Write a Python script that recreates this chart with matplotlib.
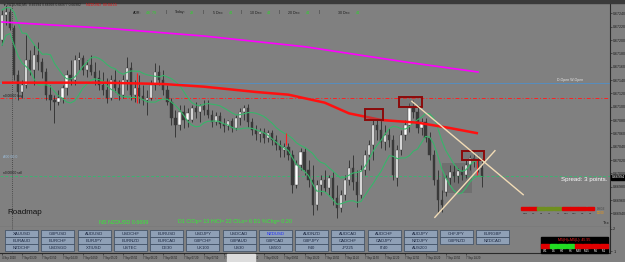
import numpy as np
import pandas as pd
import matplotlib
matplotlib.use("Agg")
import matplotlib.pyplot as plt
from matplotlib.patches import Rectangle
from matplotlib.transforms import blended_transform_factory

plt.rcParams['font.family'] = ['Liberation Sans', 'DejaVu Sans']

# ---------------- data ----------------
opens = [0.67200, 0.67238, 0.67242, 0.67218, 0.67148, 0.67122, 0.67132, 0.67170, 0.67155, 0.67178,
         0.67167, 0.67152, 0.67118, 0.67110, 0.67107, 0.67113, 0.67128, 0.67148, 0.67140, 0.67170,
         0.67173, 0.67155, 0.67162, 0.67152, 0.67143, 0.67132, 0.67125, 0.67113, 0.67140, 0.67128,
         0.67118, 0.67140, 0.67158, 0.67118, 0.67128, 0.67116, 0.67110, 0.67113, 0.67132, 0.67152,
         0.67140, 0.67125, 0.67107, 0.67083, 0.67072, 0.67092, 0.67080, 0.67080, 0.67098, 0.67092,
         0.67101, 0.67095, 0.67088, 0.67077, 0.67086, 0.67074, 0.67071, 0.67078, 0.67068, 0.67083,
         0.67092, 0.67098, 0.67077, 0.67065, 0.67059, 0.67062, 0.67053, 0.67060, 0.67050, 0.67042,
         0.67035, 0.67040, 0.67028, 0.66982, 0.67012, 0.67032, 0.67005, 0.66990, 0.66952, 0.66982,
         0.66990, 0.66978, 0.66993, 0.66963, 0.66948, 0.66968, 0.66990, 0.67008, 0.66987, 0.66968,
         0.67005, 0.67028, 0.67042, 0.67072, 0.67065, 0.67047, 0.67058, 0.67050, 0.66993, 0.67035,
         0.67058, 0.67072, 0.67098, 0.67092, 0.67068, 0.67077, 0.67053, 0.67028, 0.66990, 0.66960,
         0.66972, 0.66993, 0.67002, 0.66996, 0.67004, 0.66998, 0.67012, 0.67023, 0.67020, 0.67008]
highs = [0.67245, 0.67252, 0.67248, 0.67222, 0.67155, 0.67140, 0.67208, 0.67185, 0.67192, 0.67197,
         0.67173, 0.67158, 0.67132, 0.67118, 0.67125, 0.67132, 0.67155, 0.67170, 0.67178, 0.67182,
         0.67178, 0.67170, 0.67178, 0.67167, 0.67155, 0.67152, 0.67143, 0.67148, 0.67155, 0.67140,
         0.67148, 0.67174, 0.67167, 0.67140, 0.67148, 0.67132, 0.67125, 0.67140, 0.67166, 0.67162,
         0.67155, 0.67132, 0.67113, 0.67095, 0.67102, 0.67102, 0.67098, 0.67102, 0.67107, 0.67104,
         0.67110, 0.67110, 0.67095, 0.67092, 0.67092, 0.67083, 0.67080, 0.67083, 0.67088, 0.67098,
         0.67102, 0.67104, 0.67083, 0.67072, 0.67068, 0.67068, 0.67065, 0.67065, 0.67058, 0.67050,
         0.67046, 0.67046, 0.67035, 0.67020, 0.67038, 0.67038, 0.67020, 0.67012, 0.66990, 0.66998,
         0.67005, 0.66998, 0.67002, 0.66982, 0.66975, 0.66998, 0.67020, 0.67028, 0.67005, 0.67012,
         0.67035, 0.67050, 0.67083, 0.67083, 0.67080, 0.67072, 0.67068, 0.67058, 0.67042, 0.67065,
         0.67080, 0.67106, 0.67110, 0.67102, 0.67083, 0.67083, 0.67062, 0.67035, 0.67005, 0.66975,
         0.66998, 0.67012, 0.67012, 0.67008, 0.67011, 0.67020, 0.67028, 0.67032, 0.67028, 0.67020]
lows = [0.67192, 0.67222, 0.67215, 0.67140, 0.67110, 0.67113, 0.67128, 0.67148, 0.67132, 0.67155,
        0.67143, 0.67110, 0.67095, 0.67076, 0.67102, 0.67106, 0.67118, 0.67132, 0.67132, 0.67155,
        0.67148, 0.67144, 0.67148, 0.67132, 0.67125, 0.67118, 0.67106, 0.67110, 0.67122, 0.67110,
        0.67113, 0.67125, 0.67110, 0.67107, 0.67106, 0.67102, 0.67088, 0.67110, 0.67125, 0.67132,
        0.67118, 0.67102, 0.67072, 0.67054, 0.67065, 0.67068, 0.67070, 0.67077, 0.67083, 0.67077,
        0.67088, 0.67083, 0.67070, 0.67072, 0.67068, 0.67062, 0.67065, 0.67062, 0.67065, 0.67072,
        0.67080, 0.67070, 0.67058, 0.67050, 0.67047, 0.67046, 0.67047, 0.67042, 0.67035, 0.67024,
        0.67024, 0.67020, 0.66970, 0.66978, 0.67005, 0.66998, 0.66980, 0.66938, 0.66945, 0.66968,
        0.66972, 0.66968, 0.66952, 0.66933, 0.66942, 0.66960, 0.66982, 0.66975, 0.66950, 0.66963,
        0.66998, 0.67005, 0.67020, 0.67050, 0.67038, 0.67035, 0.67040, 0.66990, 0.66981, 0.67028,
        0.67050, 0.67062, 0.67083, 0.67060, 0.67058, 0.67047, 0.67020, 0.66982, 0.66940, 0.66942,
        0.66966, 0.66982, 0.66987, 0.66986, 0.66990, 0.66993, 0.67005, 0.67010, 0.67002, 0.66980]
closes = [0.67238, 0.67242, 0.67218, 0.67148, 0.67122, 0.67132, 0.67170, 0.67155, 0.67178, 0.67167,
          0.67152, 0.67118, 0.67110, 0.67107, 0.67113, 0.67128, 0.67148, 0.67140, 0.67170, 0.67173,
          0.67155, 0.67162, 0.67152, 0.67143, 0.67132, 0.67125, 0.67113, 0.67140, 0.67128, 0.67118,
          0.67140, 0.67158, 0.67118, 0.67128, 0.67116, 0.67110, 0.67113, 0.67132, 0.67152, 0.67140,
          0.67125, 0.67107, 0.67083, 0.67072, 0.67092, 0.67080, 0.67090, 0.67098, 0.67092, 0.67101,
          0.67095, 0.67088, 0.67077, 0.67086, 0.67074, 0.67071, 0.67078, 0.67068, 0.67083, 0.67092,
          0.67098, 0.67077, 0.67065, 0.67059, 0.67062, 0.67053, 0.67060, 0.67050, 0.67042, 0.67035,
          0.67040, 0.67028, 0.66982, 0.67012, 0.67032, 0.67005, 0.66990, 0.66952, 0.66982, 0.66990,
          0.66978, 0.66993, 0.66963, 0.66948, 0.66968, 0.66990, 0.67008, 0.66987, 0.66968, 0.67005,
          0.67028, 0.67042, 0.67072, 0.67065, 0.67047, 0.67058, 0.67050, 0.66998, 0.67035, 0.67058,
          0.67072, 0.67098, 0.67092, 0.67068, 0.67077, 0.67053, 0.67028, 0.66990, 0.66960, 0.66952,
          0.66993, 0.67002, 0.66996, 0.67004, 0.66998, 0.67012, 0.67023, 0.67020, 0.67008, 0.66994]

ma_red_idx = [0, 25, 40, 50, 63, 71, 80, 86, 94, 103, 111, 118]
ma_red_val = [0.67136, 0.67136, 0.67134, 0.67130, 0.67122, 0.67118, 0.67106, 0.67090, 0.67080, 0.67076, 0.67068, 0.67060]
ma_mag_idx = [0, 25, 50, 75, 100, 118]
ma_mag_val = [0.67227, 0.67218, 0.67206, 0.67190, 0.67167, 0.67152]

level_open = 0.671355
level_buy = 0.67113
level_sell = 0.66996
current_price = 0.66994
day_separator = 2.5

red_marks_idx = [33.5, 70.5, 117.7]
red_marks_lo = [0.67106, 0.67042, 0.66998]
red_marks_hi = [0.67150, 0.67060, 0.67020]

boxes = [(90.0, 94.5, 0.67080, 0.67096), (98.4, 104.1, 0.67100, 0.67114), (114.0, 119.5, 0.67020, 0.67034)]
shade_box = (109.0, 116.4, 0.66970, 0.67016)
trend_down = [(101.6, 0.67108), (129.2, 0.66968)]
trend_up = [(107.3, 0.66934), (122.2, 0.67034)]

price_ticks = [0.66940, 0.66960, 0.66980, 0.67000, 0.67020, 0.67040, 0.67060, 0.67080, 0.67100,
               0.67120, 0.67140, 0.67160, 0.67180, 0.67200, 0.67220, 0.67240]
time_tick_idx = list(range(0, 120, 5))
time_labels = ["4 Sep 2020", "7 Sep 03:20", "7 Sep 03:50", "7 Sep 04:20", "7 Sep 04:50", "7 Sep 05:20",
               "7 Sep 05:50", "7 Sep 06:20", "7 Sep 06:50", "7 Sep 07:20", "7 Sep 07:50", "7 Sep 08:20",
               "7 Sep 08:50", "7 Sep 09:20", "7 Sep 09:50", "7 Sep 10:20", "7 Sep 10:50", "7 Sep 11:20",
               "7 Sep 11:50", "7 Sep 12:20", "7 Sep 12:50", "7 Sep 13:20", "7 Sep 13:50", "7 Sep 14:20"]

buttons = [["XAUUSD", "GBPUSD", "AUDUSD", "USDCHF", "EURUSD", "USDJPY", "USDCAD", "NZDUSD", "AUDNZD",
            "AUDCAD", "AUDCHF", "AUDJPY", "CHFJPY", "EURGBP"],
           ["EURAUD", "EURCHF", "EURJPY", "EURNZD", "EURCAD", "GBPCHF", "GBPAUD", "GBPCAD", "GBPJPY",
            "CADCHF", "CADJPY", "NZDJPY", "GBPNZD", "NZDCAD"],
           ["NZDCHF", "USDSGD", "XTIUSD", "USTEC", "DE30", "UK100", "US30", "US500", "F40", "JP225",
            "IT40", "AUS200"]]

mtf_top_labels = ["MN1", "W1", "D1", "H4", "H1", "M30", "M15", "M5", "M1"]
mtf_top_colors = ["#e00000", "#e00000", "#6f8f1f", "#6f8f1f", "#6f8f1f", "#e00000", "#e00000", "#e00000", "#e00000"]
mtf_bot_labels = ["W1", "D1", "H4", "H1", "M30", "M15", "M5", "M1"]
mtf_bot_colors = ["#e00000", "#22dd22", "#22dd22", "#22dd22", "#e00000", "#e00000", "#e00000", "#e00000"]

# ---------------- figure ----------------
W, H = 625, 262
BG = "#808080"
fig = plt.figure(figsize=(W / 100, H / 100), dpi=100, facecolor=BG)

def fx(x):
    return x / W

def fy(y):
    return 1 - y / H

right_px = 610
ax = fig.add_axes([0, fy(227), fx(right_px), fy(4) - fy(227)], facecolor=BG)
axs = fig.add_axes([0, fy(253), fx(right_px), fy(227) - fy(253)], facecolor=BG, sharex=ax)

n = len(closes)
idx = np.arange(n)
o = np.array(opens); h = np.array(highs); l = np.array(lows); c = np.array(closes)

x_right = (right_px - 2) / 4.034
ax.set_xlim(-0.5, x_right)
ax.set_ylim(0.669195, 0.67254)

wick = "#383838"
ax.vlines(idx, l, h, color=wick, lw=0.7, zorder=3)
bull = c >= o
body_h = np.maximum(np.abs(c - o), 0.000012)
ax.bar(idx[bull], body_h[bull], bottom=np.minimum(o, c)[bull], width=0.55,
       color="white", edgecolor=wick, linewidth=0.3, zorder=4)
ax.bar(idx[~bull], body_h[~bull], bottom=np.minimum(o, c)[~bull], width=0.55,
       color="#3a3a3a", edgecolor=wick, linewidth=0.3, zorder=4)

# envelope (green lines) derived from candle highs/lows
up = pd.Series(highs).rolling(7, min_periods=1).mean()
dn = pd.Series(lows).rolling(7, min_periods=1).mean()
ax.plot(idx, up, color="#37b56a", lw=0.8, zorder=5)
ax.plot(idx, dn, color="#37b56a", lw=0.8, zorder=5)

# moving averages
ax.plot(ma_red_idx, ma_red_val, color="#ff1010", lw=1.8, zorder=6, solid_capstyle="butt")
ax.plot(ma_mag_idx, ma_mag_val, color="#ff00ff", lw=1.2, zorder=6)

# levels
ax.axhline(level_open, color="#4f8fc8", lw=0.6, zorder=2)
ax.axhline(level_buy, color="#ff2020", lw=0.7, dashes=(4, 2, 1, 2), zorder=2)
ax.axhline(level_sell, color="#3cb371", lw=0.7, dashes=(3, 2), zorder=2)
ax.axvline(day_separator, color="#3a3a3a", lw=0.6, ls=(0, (1, 1.5)), zorder=2)
axs.axvline(day_separator, color="#3a3a3a", lw=0.6, ls=(0, (1, 1.5)), zorder=2)

ax.vlines(red_marks_idx, red_marks_lo, red_marks_hi, color="#ff2020", lw=0.8, zorder=5)

# boxes
sx0, sx1, sp0, sp1 = shade_box
ax.add_patch(Rectangle((sx0, sp0), sx1 - sx0, sp1 - sp0, facecolor="#5e5e5e", alpha=0.45,
                       edgecolor="none", zorder=2.5))
for bx0, bx1, bp0, bp1 in boxes:
    ax.add_patch(Rectangle((bx0, bp0), bx1 - bx0, bp1 - bp0, facecolor="#6a6a6a", alpha=0.35,
                           edgecolor="none", zorder=6.5))
    ax.add_patch(Rectangle((bx0, bp0), bx1 - bx0, bp1 - bp0, facecolor="none",
                           edgecolor="#8b0a0a", lw=1.4, zorder=7))

for seg in (trend_down, trend_up):
    ax.plot([seg[0][0], seg[1][0]], [seg[0][1], seg[1][1]], color="#f2dcb6", lw=1.0, zorder=7)

# axes styling
for a in (ax, axs):
    for s in ("top", "left"):
        a.spines[s].set_visible(False)
    a.spines["right"].set_color("#2a2a2a")
    a.spines["right"].set_linewidth(0.8)
    a.spines["bottom"].set_color("#2a2a2a")
    a.spines["bottom"].set_linewidth(0.8)
    a.yaxis.tick_right()
    a.tick_params(axis="y", length=1.5, width=0.4, pad=0.8, labelsize=2.6, colors="#1a1a1a")

ax.set_yticks(price_ticks)
ax.set_yticklabels([f"{p:.5f}" for p in price_ticks])
ax.tick_params(axis="x", bottom=False, labelbottom=False)

axs.set_ylim(0.91, 2.09)
axs.set_yticks([1, 2])
axs.set_yticklabels(["1", "2"])
axs.tick_params(axis="y", labelsize=2.8)
axs.set_xticks(time_tick_idx)
axs.set_xticklabels(time_labels)
axs.tick_params(axis="x", length=1.5, width=0.4, pad=0.8, labelsize=1.9, colors="#1a1a1a")
for t in axs.get_xticklabels():
    t.set_ha("left")

# current price box on the axis
tr = blended_transform_factory(ax.transAxes, ax.transData)
ax.text(1.003, current_price, f"{current_price:.5f}", transform=tr, fontsize=2.6, color="white",
        va="center", ha="left", bbox=dict(boxstyle="square,pad=0.15", fc="black", ec="black"),
        zorder=10, clip_on=False)

# ---------------- overlay (UI elements) ----------------
ov = fig.add_axes([0, 0, 1, 1])
ov.set_xlim(0, W)
ov.set_ylim(H, 0)
ov.axis("off")
ov.patch.set_alpha(0)

ov.add_patch(Rectangle((0, 0), W, 2.5, color="#3a3a3a"))
ov.add_patch(Rectangle((227, 254), 28, 8, color="#dcdcdc", zorder=1))

dark = "#1a1a1a"
ov.text(3, 5, "\u25bc NZDUSD,M5  0.66994 0.66993 0.66977 0.66982", fontsize=2.4, color=dark, va="center")
ov.text(86, 5, "NZDUSD  00:04:15", fontsize=2.6, color="#e01010", va="center")

top_items = [(133, "ADR:", dark), (146, "46  79", "#22dd22"), (166, "|", dark), (175, "Today:", dark),
             (190, "28", "#22dd22"), (203, "|", dark), (213, "5 Dec:", dark), (229, "44", "#22dd22"),
             (241, "|", dark), (250, "10 Dec:", dark), (267, "44", "#22dd22"), (279, "|", dark),
             (288, "20 Dec:", dark), (306, "44", "#22dd22"), (319, "|", dark), (338, "30 Dec:", dark),
             (356, "44", "#22dd22")]
for xx, tt, cc in top_items:
    ov.text(xx, 12.5, tt, fontsize=2.6, color=cc, va="center")

ov.text(557, 80.5, "D-Open W-Open", fontsize=2.5, color="#e8e8e8", va="center")
ov.text(3, 96.5, "n0.00000 buy", fontsize=2.3, color=dark, va="center")
ov.text(3, 157, "A00 00.0", fontsize=2.5, color="#9cc0e0", va="center")
ov.text(3, 173.5, "n0.00000 sell", fontsize=2.3, color=dark, va="center")

ov.text(561, 180, "Spread: 3 points.", fontsize=4.4, color="white", va="center")
ov.text(7, 212, "Roadmap", fontsize=5.8, color="#111111", va="center")
ov.text(99, 222, "NS NZDUSD 0.6699", fontsize=3.9, color="#33ee33", va="center")
ov.text(178, 222, "D1 ClOp= 13 HiCl= 22 ClLo= 6 D1 %Chg= 0.20", fontsize=3.9, color="#33ee33", va="center")
ov.text(603, 223, "Tex", fontsize=3.2, color=dark, va="center")

# MTF strip (upper)
cw = 8.2
for k, (lab, col) in enumerate(zip(mtf_top_labels, mtf_top_colors)):
    x0 = 521 + k * cw
    ov.add_patch(Rectangle((x0, 207), cw - 0.6, 2.8, color=col))
    ov.text(x0 + cw / 2, 213, lab, fontsize=1.7, color=dark, ha="center", va="center")
ov.text(597, 208.5, "CH/GE", fontsize=1.9, color="#404040", va="center")
ov.text(597, 213, "00000", fontsize=1.9, color="#ff9900", va="center")

# buttons
pitch, bw, bh = 36.25, 33.0, 6.6
for r, row in enumerate(buttons):
    y0 = 230.3 + r * 7.0
    for k, name in enumerate(row):
        x0 = 5 + k * pitch
        ov.add_patch(Rectangle((x0, y0), bw, bh, facecolor="#8fa0b6", edgecolor="#3a4a60", lw=0.5))
        col = "#1a28ff" if name == "NZDUSD" else "#1c2740"
        ov.text(x0 + bw / 2, y0 + bh / 2 + 0.2, name, fontsize=3.1, color=col, ha="center", va="center")

# bottom right black panel
ov.add_patch(Rectangle((541, 237), 67, 16, color="black"))
ov.text(574.5, 240.5, "M5(H)+M5(L): 45.95", fontsize=2.6, color="#ff2020", ha="center", va="center")
bw2 = 67 / 8
for k, (lab, col) in enumerate(zip(mtf_bot_labels, mtf_bot_colors)):
    x0 = 541 + k * bw2
    ov.add_patch(Rectangle((x0 + 0.4, 244), bw2 - 0.8, 4, color=col))
    ov.text(x0 + bw2 / 2, 250.6, lab, fontsize=2.2, color="white", ha="center", va="center")

fig.savefig("out.png", dpi=100, facecolor=BG)
